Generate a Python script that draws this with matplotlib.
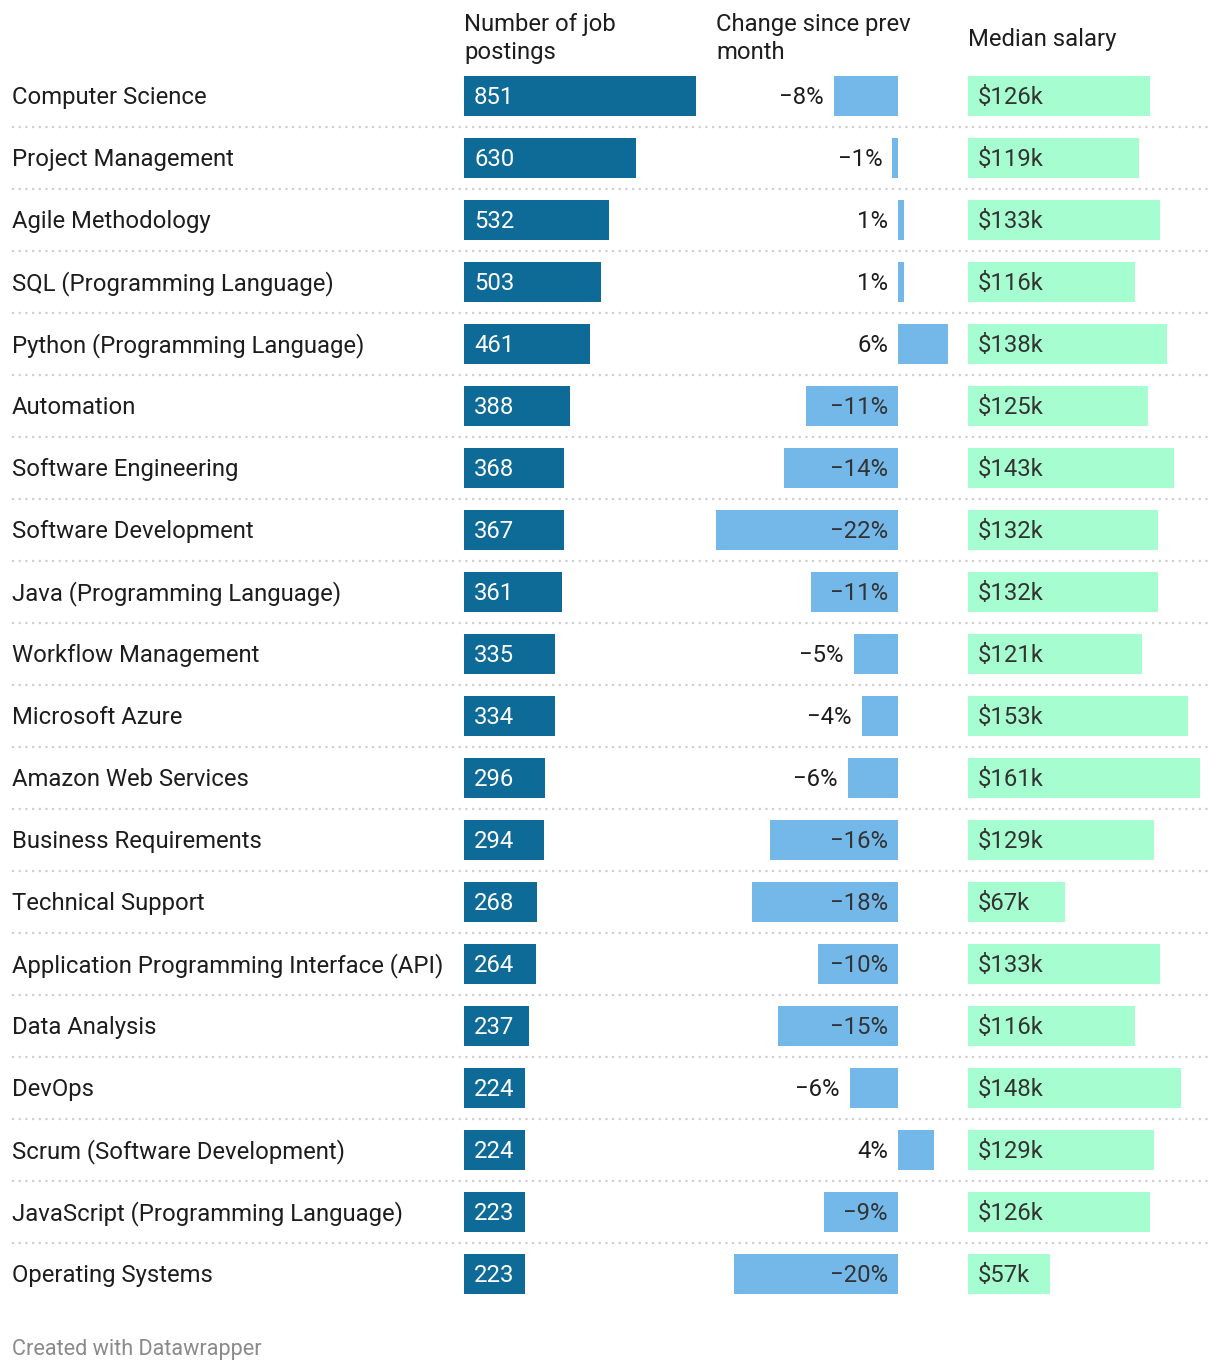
import numpy as np
import matplotlib.pyplot as plt

skills = [
    "Computer Science", "Project Management", "Agile Methodology",
    "SQL (Programming Language)", "Python (Programming Language)", "Automation",
    "Software Engineering", "Software Development", "Java (Programming Language)",
    "Workflow Management", "Microsoft Azure", "Amazon Web Services",
    "Business Requirements", "Technical Support",
    "Application Programming Interface (API)", "Data Analysis", "DevOps",
    "Scrum (Software Development)", "JavaScript (Programming Language)",
    "Operating Systems",
]
postings = [851, 630, 532, 503, 461, 388, 368, 367, 361, 335,
            334, 296, 294, 268, 264, 237, 224, 224, 223, 223]
# change since previous month, %
change = [-7.8, -0.7, 0.7, 0.7, 6.1, -11.2, -13.9, -22.2, -10.6, -5.4,
          -4.4, -6.1, -15.6, -17.8, -9.8, -14.6, -5.9, 4.4, -9.0, -20.0]
salary = [126, 119, 133, 116, 138, 125, 143, 132, 132, 121,
          153, 161, 129, 67, 133, 116, 148, 129, 126, 57]

headers = ["Number of job\npostings", "Change since prev\nmonth", "Median salary"]

DARK = "#0e6a96"
LIGHT = "#74b8ea"
GREEN = "#a6fdd0"
TXT = "#1d1d1d"
FS = 17.2

W, H = 1220, 1370
plt.rcParams['font.family'] = ['Roboto', 'DejaVu Sans']
fig = plt.figure(figsize=(W / 100, H / 100), dpi=100)


def px_axes(x0, x1, y0, y1):
    ax = fig.add_axes([x0 / W, 1 - y1 / H, (x1 - x0) / W, (y1 - y0) / H])
    ax.set_axis_off()
    ax.patch.set_alpha(0)
    return ax


n = len(skills)
rows = np.arange(n)
top, bottom = 65, 1305
bh = 40 / 62
pad = 7.2  # ~10 px in points

# background: labels and dotted separators
bg = px_axes(0, W, top, bottom)
bg.set_xlim(0, W)
bg.set_ylim(n - 0.5, -0.5)
for i, s in enumerate(skills):
    bg.text(12, i - 0.015, s, fontsize=FS, color=TXT, va='center_baseline', ha='left')
bg.hlines(rows[:-1] + 0.5, 12, 1208, colors="#cfcfcf", linewidth=1.6,
          linestyles=(0, (1, 2)))

# postings
ax1 = px_axes(464, 696, top, bottom)
ax1.barh(rows, postings, height=bh, color=DARK)
ax1.set_xlim(0, max(postings))
ax1.set_ylim(n - 0.5, -0.5)
for i, v in enumerate(postings):
    ax1.annotate(str(v), (0, i), xytext=(pad, 0.7), textcoords='offset points',
                 ha='left', va='center_baseline', fontsize=FS, color='white')

# change
ax2 = px_axes(716, 948, top, bottom)
ax2.barh(rows, change, height=bh, color=LIGHT)
ax2.set_xlim(min(change), max(change))
ax2.set_ylim(n - 0.5, -0.5)
for i, v in enumerate(change):
    lab = f"{round(v):d}%".replace("-", "\u2212")
    if v < 0 and abs(v) > 8.5:
        ax2.annotate(lab, (0, i), xytext=(-pad, 0.7), textcoords='offset points',
                     ha='right', va='center_baseline', fontsize=FS, color="#333333")
    elif v < 0:
        ax2.annotate(lab, (v, i), xytext=(-pad, 0.7), textcoords='offset points',
                     ha='right', va='center_baseline', fontsize=FS, color=TXT)
    else:
        ax2.annotate(lab, (0, i), xytext=(-pad, 0.7), textcoords='offset points',
                     ha='right', va='center_baseline', fontsize=FS, color=TXT)

# salary
ax3 = px_axes(968, 1200, top, bottom)
ax3.barh(rows, salary, height=bh, color=GREEN)
ax3.set_xlim(0, max(salary))
ax3.set_ylim(n - 0.5, -0.5)
for i, v in enumerate(salary):
    ax3.annotate(f"${v}k", (0, i), xytext=(pad, 0.7), textcoords='offset points',
                 ha='left', va='center_baseline', fontsize=FS, color="#333333")

# column headers
for x, h in zip([464, 716, 968], headers):
    if "\n" in h:
        fig.text(x / W, 1 - 13 / H, h, fontsize=FS, color=TXT, va='top',
                 ha='left', linespacing=1.27)
    else:
        fig.text(x / W, 1 - 28 / H, h, fontsize=FS, color=TXT, va='top', ha='left')

fig.text(12 / W, 1 - 1347 / H, "Created with Datawrapper", fontsize=15.6,
         color="#8a8a8a", va='center_baseline', ha='left')

fig.savefig("out.png", dpi=100, facecolor='white')
